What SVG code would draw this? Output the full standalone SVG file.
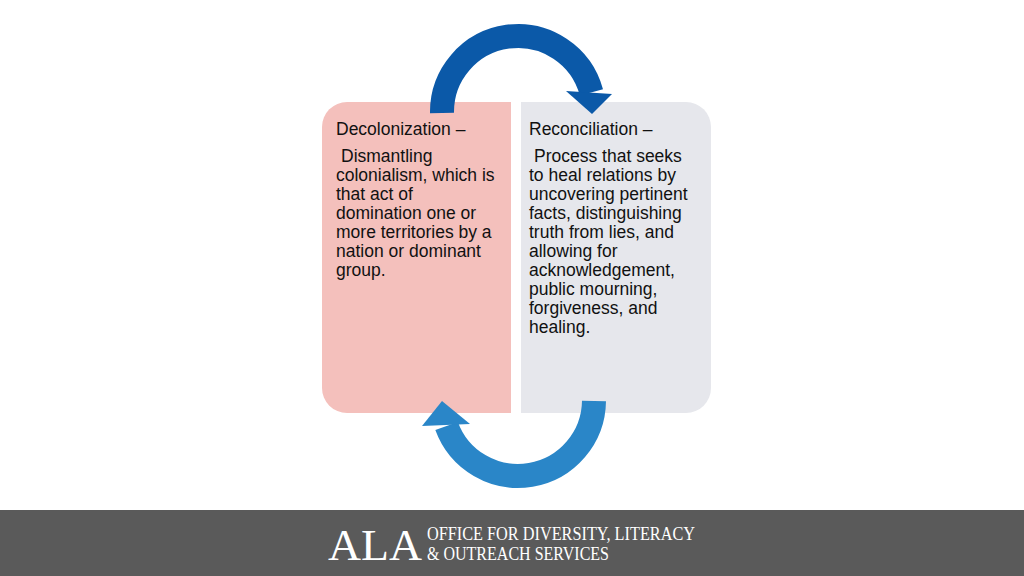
<svg xmlns="http://www.w3.org/2000/svg" width="1024" height="576" viewBox="0 0 1024 576">
<style>
.t{font-family:"Liberation Sans",Arial,sans-serif;font-size:17.5px;fill:#111}
.f{font-family:"Liberation Serif","Times New Roman",serif;fill:#fff}
</style>
<rect width="1024" height="576" fill="#fff"/>
<g id="decolonization">
<path d="M347,102 H511 V413 H347 A25,25 0 0 1 322,388 V127 A25,25 0 0 1 347,102 Z" fill="#f4c0bc"/>
<text class="t" x="336" y="135">Decolonization –</text>
<text class="t"><tspan x="341" y="162">Dismantling</tspan><tspan x="336" y="181">colonialism, which is</tspan><tspan x="336" y="200">that act of</tspan><tspan x="336" y="219">domination one or</tspan><tspan x="336" y="238">more territories by a</tspan><tspan x="336" y="257">nation or dominant</tspan><tspan x="336" y="276">group.</tspan></text>
</g>
<g id="reconciliation">
<path d="M521,102 H686 A25,25 0 0 1 711,127 V388 A25,25 0 0 1 686,413 H521 Z" fill="#e6e7ec"/>
<text class="t" x="529" y="135">Reconciliation –</text>
<text class="t"><tspan x="534" y="162">Process that seeks</tspan><tspan x="529" y="181">to heal relations by</tspan><tspan x="529" y="200">uncovering pertinent</tspan><tspan x="529" y="219">facts, distinguishing</tspan><tspan x="529" y="238">truth from lies, and</tspan><tspan x="529" y="257">allowing for</tspan><tspan x="529" y="276">acknowledgement,</tspan><tspan x="529" y="295">public mourning,</tspan><tspan x="529" y="314">forgiveness, and</tspan><tspan x="529" y="333">healing.</tspan></text>
</g>
<g id="connectors">
<path d="M442,113 A76,76 0 0 1 591.4,92.3" fill="none" stroke="#0b59a8" stroke-width="24"/>
<polygon points="566,91 612,94 592,114" fill="#0b59a8"/>
<path d="M594,401 A76,76 0 0 1 446.6,426" fill="none" stroke="#2a86c8" stroke-width="24"/>
<polygon points="422,426 470,424 442,401" fill="#2a86c8"/>
</g>
<g id="footer">
<rect x="0" y="510" width="1024" height="66" fill="#5a5a5a"/>
<text class="f" x="328" y="560" font-size="44" textLength="94" lengthAdjust="spacingAndGlyphs">ALA</text>
<text class="f" x="427" y="540" font-size="18" textLength="268" lengthAdjust="spacingAndGlyphs">OFFICE FOR DIVERSITY, LITERACY</text>
<text class="f" x="427" y="560" font-size="18" textLength="182" lengthAdjust="spacingAndGlyphs">&amp; OUTREACH SERVICES</text>
</g>
</svg>
